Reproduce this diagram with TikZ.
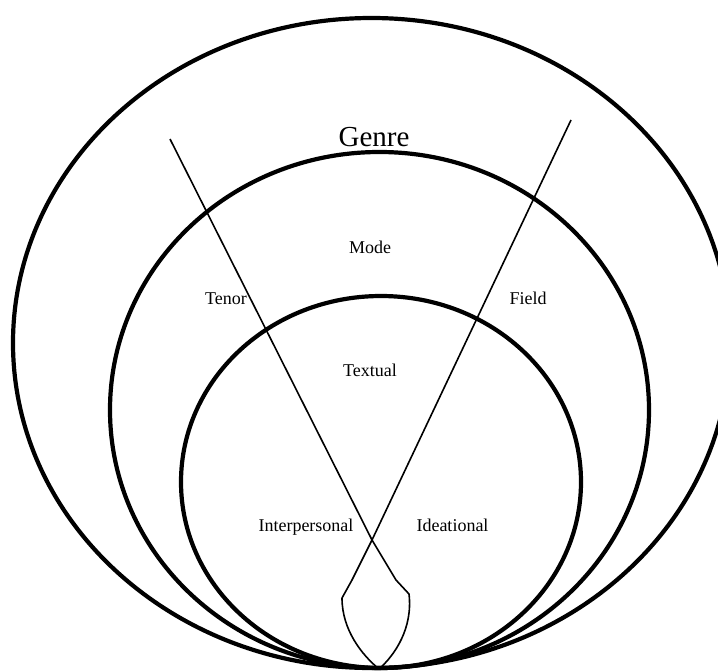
\documentclass[tikz,border=0pt]{standalone}
\usepackage{fontspec}
\setmainfont{Liberation Serif}
\begin{document}
\begin{tikzpicture}[x=1pt,y=-1pt,
  ring/.style={line width=4.2pt},
  ray/.style={line width=1.6pt, line join=round},
  lbl/.style={anchor=base, inner sep=0pt, font=\fontsize{18}{20}\selectfont},
  titlelbl/.style={anchor=base, inner sep=0pt, font=\fontsize{29}{32}\selectfont}]
\useasboundingbox (0,0) rectangle (718,672);
\clip (0,0) rectangle (718,672);
\fill[white] (0,0) rectangle (718,672);
% rings
\draw[ring] (371.5,343) ellipse [x radius=358.5pt, y radius=325pt];
\draw[ring] (379.5,410) ellipse [x radius=269.5pt, y radius=258pt];
\draw[ring] (381,482) ellipse [x radius=200pt, y radius=186pt];
% rays
\coordinate (tl) at (170,139);
\coordinate (tr) at (571,120);
\coordinate (cross) at (372,540);
\coordinate (kl) at (409,594);
\coordinate (kr) at (342,598);
\coordinate (bot) at (379,669);
\draw[ray] (tl) -- (cross) -- (396,580) -- (kl) .. controls (413,628) and (395,655) .. (bot);
\draw[ray] (tr) -- (cross) -- (352,580) -- (kr) .. controls (342,630) and (362,655) .. (bot);
% labels
\node[titlelbl] (genre) at (374,146) {Genre};
\node[lbl] (mode) at (370,253) {Mode};
\node[lbl] (tenor) at (226,304) {Tenor};
\node[lbl] (field) at (528,304) {Field};
\node[lbl] (textual) at (370,376) {Textual};
\node[lbl] (interp) at (306,531) {Interpersonal};
\node[lbl] (ideat) at (452.5,531) {Ideational};
\end{tikzpicture}
\end{document}
